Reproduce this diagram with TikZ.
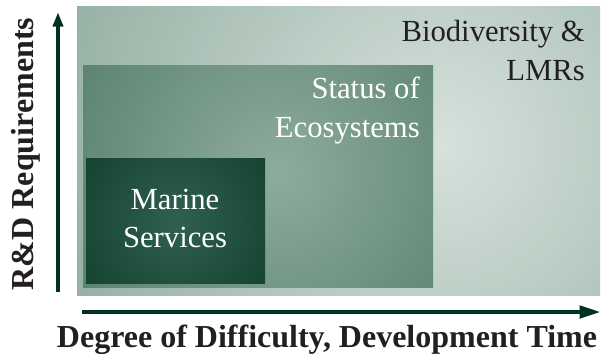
\documentclass[tikz,border=0pt]{standalone}
\usepackage{fontspec}
\setmainfont{Liberation Serif}
\usetikzlibrary{arrows.meta}
\definecolor{outerDark}{HTML}{96B0A4}
\definecolor{outerLight}{HTML}{D6E2DC}
\definecolor{midDark}{HTML}{4C7664}
\definecolor{midLight}{HTML}{8EAC9E}
\definecolor{inDark}{HTML}{002B1B}
\definecolor{inLight}{HTML}{30604E}
\definecolor{arrowGreen}{HTML}{00321F}
\definecolor{txtDark}{HTML}{231F20}
\pgfdeclareradialshading{glowOuter}{\pgfpointorigin}{color(0bp)=(outerLight); color(25bp)=(outerDark); color(50bp)=(outerDark)}
\pgfdeclareradialshading{glowMid}{\pgfpointorigin}{color(0bp)=(midLight); color(25bp)=(midDark); color(50bp)=(midDark)}
\pgfdeclareradialshading{glowIn}{\pgfpointorigin}{color(0bp)=(inLight); color(25bp)=(inDark); color(50bp)=(inDark)}
\begin{document}
\begin{tikzpicture}[x=0.75pt,y=-0.75pt,
  boxbase/.style={rectangle, inner sep=0pt, outer sep=0pt, anchor=north west, draw=none},
  axisline/.style={line width=3.4pt, draw=arrowGreen},
  lbl/.style={inner sep=0pt, font=\fontsize{23pt}{28.5pt}\selectfont},
  axislbl/.style={inner sep=0pt, text=txtDark, font=\fontsize{24pt}{28pt}\selectfont\bfseries}]
\useasboundingbox (0,0) rectangle (609,360);
% boxes (named frames)
\node[boxbase, minimum width=392.25pt, minimum height=216pt] (outer) at (77,7) {};
\node[boxbase, minimum width=262.5pt, minimum height=166.5pt] (mid) at (83,65) {};
\node[boxbase, minimum width=134.25pt, minimum height=93.75pt] (inner) at (86,158) {};
% shaded fills
\begin{scope}
  \clip (outer.north west) rectangle (outer.south east);
  \fill[outerDark] (outer.north west) rectangle (outer.south east);
  \shade[shading=glowOuter] (440,145) circle [radius=300pt];
\end{scope}
\begin{scope}
  \clip (mid.north west) rectangle (mid.south east);
  \fill[midDark] (mid.north west) rectangle (mid.south east);
  \shade[shading=glowMid] (278,172) circle [radius=225pt];
\end{scope}
\begin{scope}
  \clip (inner.north west) rectangle (inner.south east);
  \fill[inDark] (inner.north west) rectangle (inner.south east);
  \shade[shading=glowIn] (176,222) circle [radius=150pt];
\end{scope}
% labels
\node[lbl, anchor=base east, align=right, text=txtDark] (bio) at (585,80) {Biodiversity \&\\LMRs};
\node[lbl, anchor=base east, align=right, text=white] (status) at (420,137) {Status of\\Ecosystems};
\node[lbl, anchor=base, align=center, text=white] (marine) at (175,247) {Marine\\Services};
% axes
\coordinate (vS) at (58,292);
\coordinate (vE) at (58,12);
\coordinate (hS) at (82,312);
\coordinate (hE) at (601,312);
\draw[axisline, -{Triangle[length=11pt,width=7.5pt]}] (vS) -- (vE);
\draw[axisline, -{Triangle[length=16pt,width=9pt]}] (hS) -- (hE);
\node[axislbl, rotate=90, anchor=base] (ylab) at (33,154) {R\&D Requirements};
\node[axislbl, anchor=base] (xlab) at (327,347) {Degree of Difficulty, Development Time};
\end{tikzpicture}
\end{document}
